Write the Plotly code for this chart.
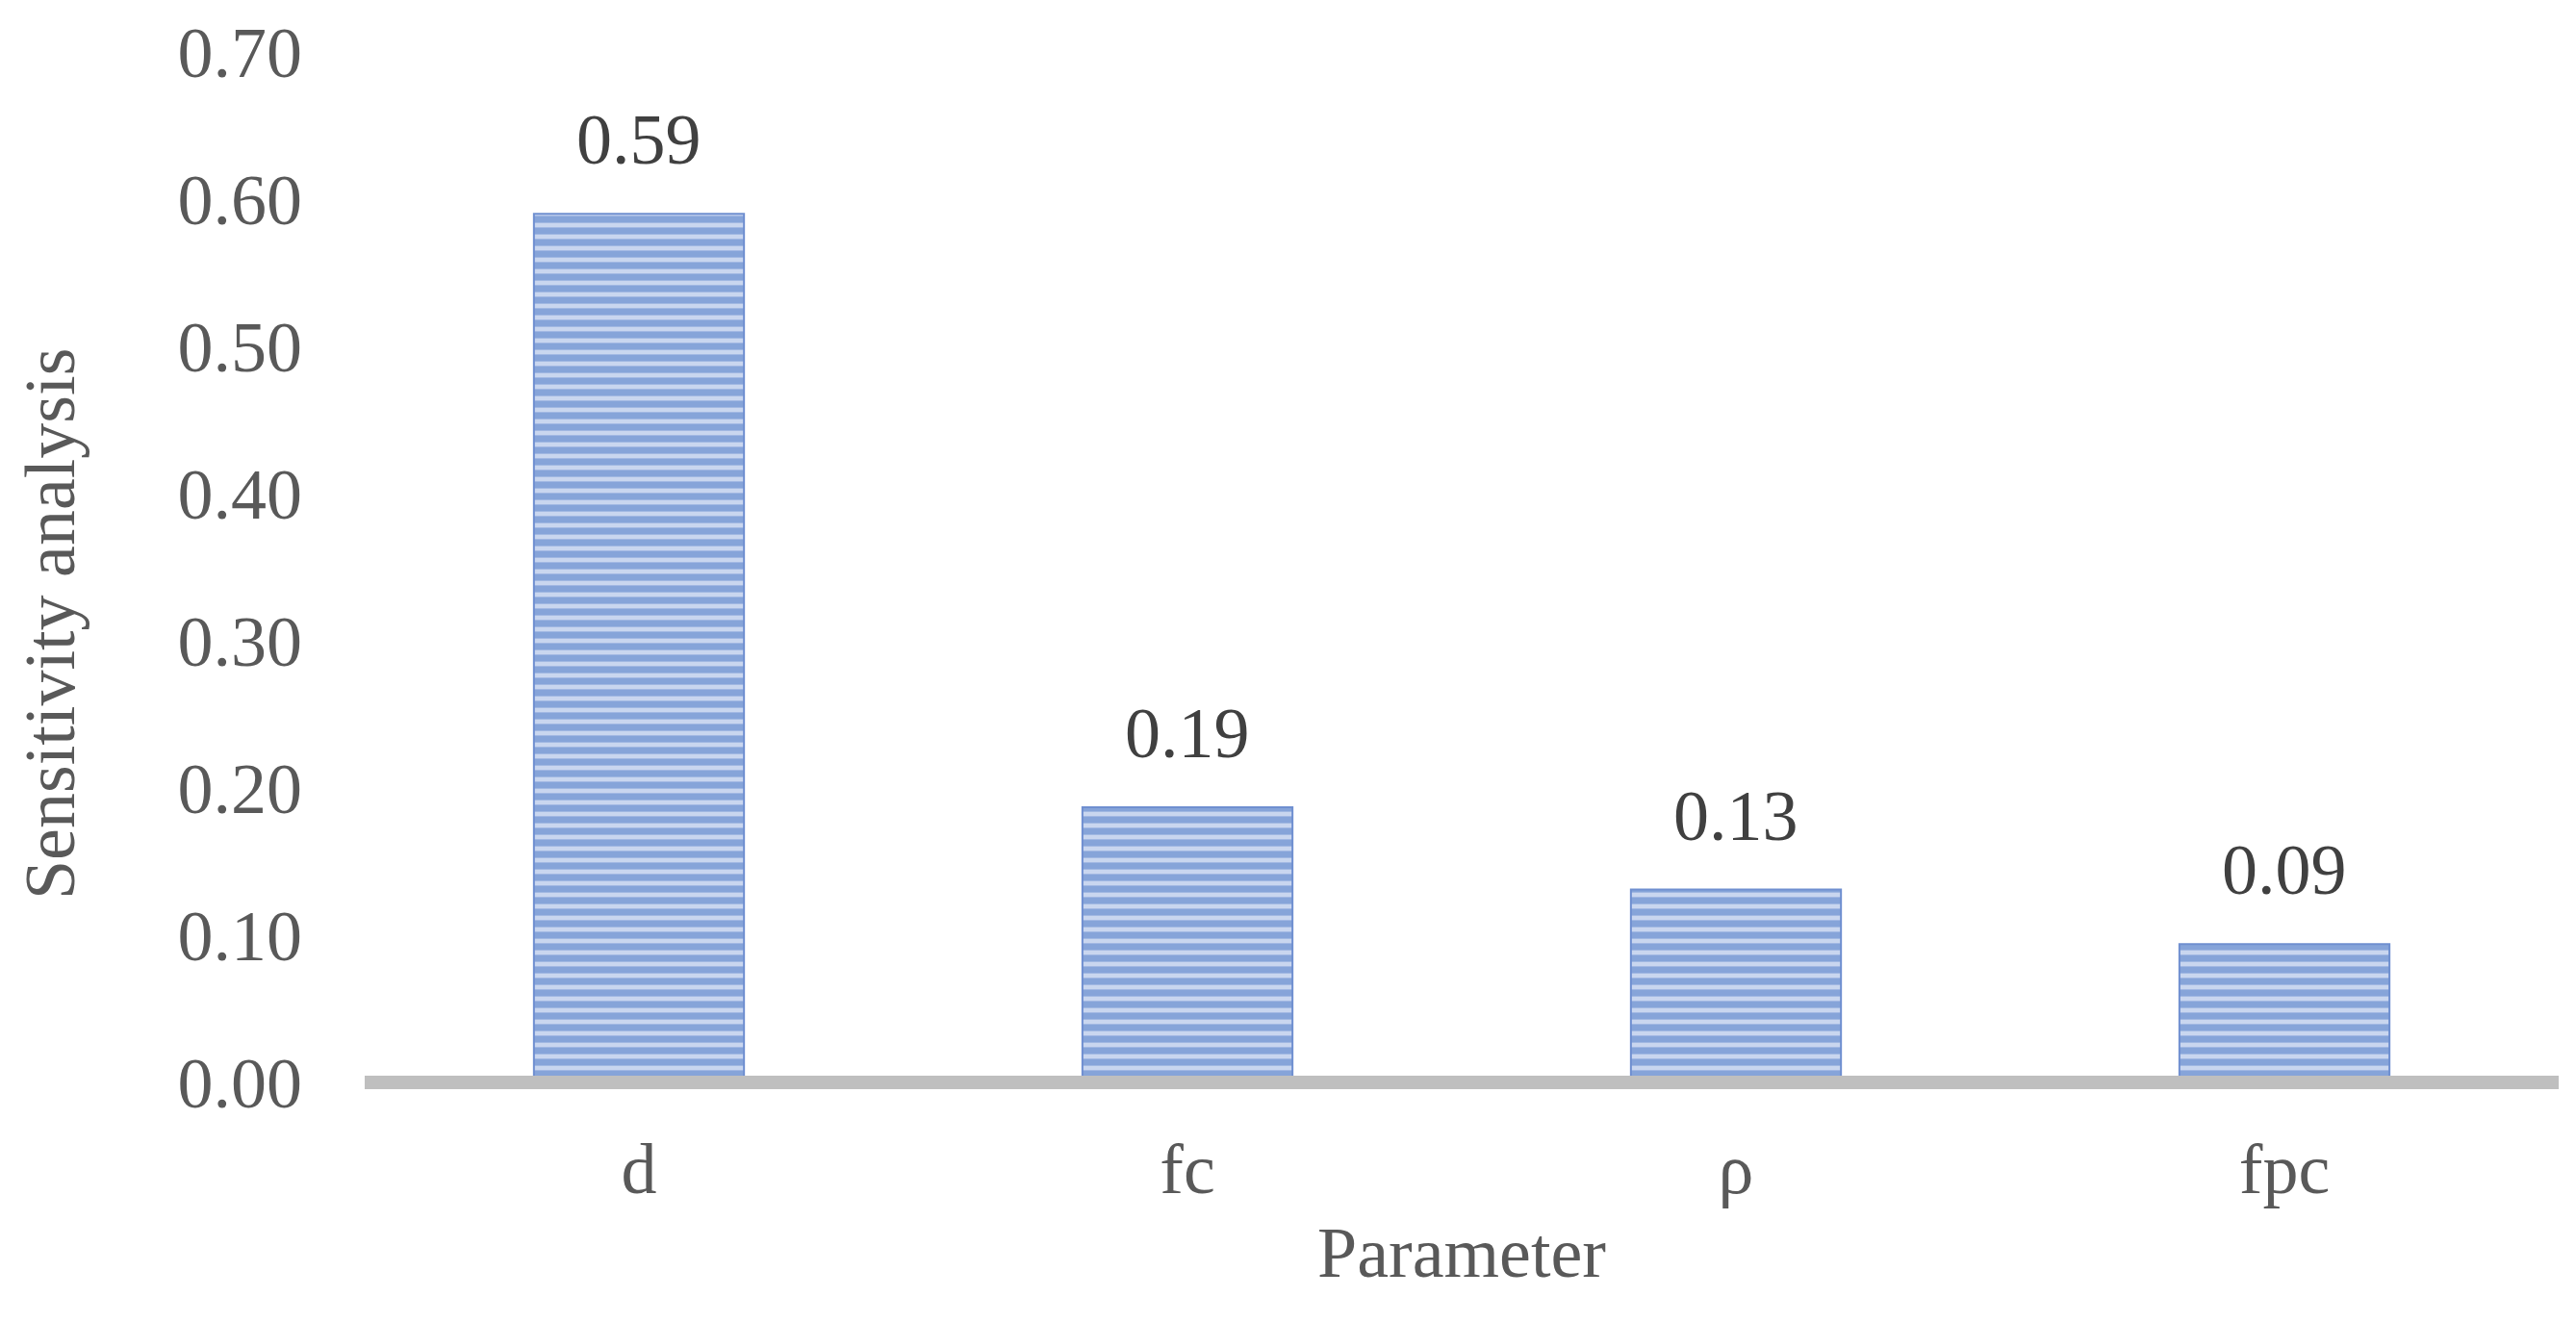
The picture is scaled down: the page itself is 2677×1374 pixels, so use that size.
import plotly.graph_objects as go

# values
params = ["d", "fc", "ρ", "fpc"]
sensitivity = [0.59, 0.187, 0.131, 0.094]
y_ticks = [0.0, 0.1, 0.2, 0.3, 0.4, 0.5, 0.6, 0.7]

FONT = "Liberation Serif, Times New Roman, serif"

fig = go.Figure()
fig.add_trace(go.Bar(
    x=params,
    y=sensitivity,
    marker=dict(
        color="#C9D6EF",
        line=dict(color="#6F8FD0", width=2),
        pattern=dict(shape="-", fgcolor="#4472C4", bgcolor="#C9D6EF",
                     size=12, solidity=0.6, fillmode="overlay"),
    ),
    showlegend=False,
))

# value labels above the bars
for p, v in zip(params, sensitivity):
    fig.add_annotation(x=p, y=v, text=f"{v:.2f}", showarrow=False,
                       yanchor="bottom", yshift=34,
                       font=dict(family=FONT, size=74, color="#404040"))

# thick grey baseline (paper ref so it isn't clipped by the plot area)
fig.add_shape(type="line", xref="paper", yref="paper", x0=0, x1=1, y0=0, y1=0,
              line=dict(color="#BFBFBF", width=14), layer="above")

# axis titles
fig.add_annotation(xref="paper", yref="paper", x=0.5, y=-0.165, text="Parameter",
                   showarrow=False, yanchor="middle",
                   font=dict(family=FONT, size=74, color="#595959"))
fig.add_annotation(xref="paper", yref="paper", x=-0.162, y=0.445,
                   text="Sensitivity analysis", textangle=-90, showarrow=False,
                   xanchor="left", yanchor="middle",
                   font=dict(family=FONT, size=74, color="#595959"))

# page body adds 8px offset, so margins are shifted by 8
fig.update_layout(
    width=2677, height=1374,
    margin=dict(l=371, r=26, t=46, b=257),
    paper_bgcolor="white", plot_bgcolor="white",
    bargap=0.617,
    font=dict(family=FONT, size=74, color="#595959"),
)
fig.update_xaxes(showline=False, showgrid=False, ticks="", ticklabelstandoff=40,
                 automargin=False,
                 tickfont=dict(family=FONT, size=74, color="#595959"))
fig.update_yaxes(range=[0, 0.7], tickvals=y_ticks, tickformat=".2f",
                 showgrid=False, zeroline=False, showline=False, ticks="",
                 ticklabelstandoff=64, automargin=False,
                 tickfont=dict(family=FONT, size=74, color="#595959"))

fig.write_html("out.html")
